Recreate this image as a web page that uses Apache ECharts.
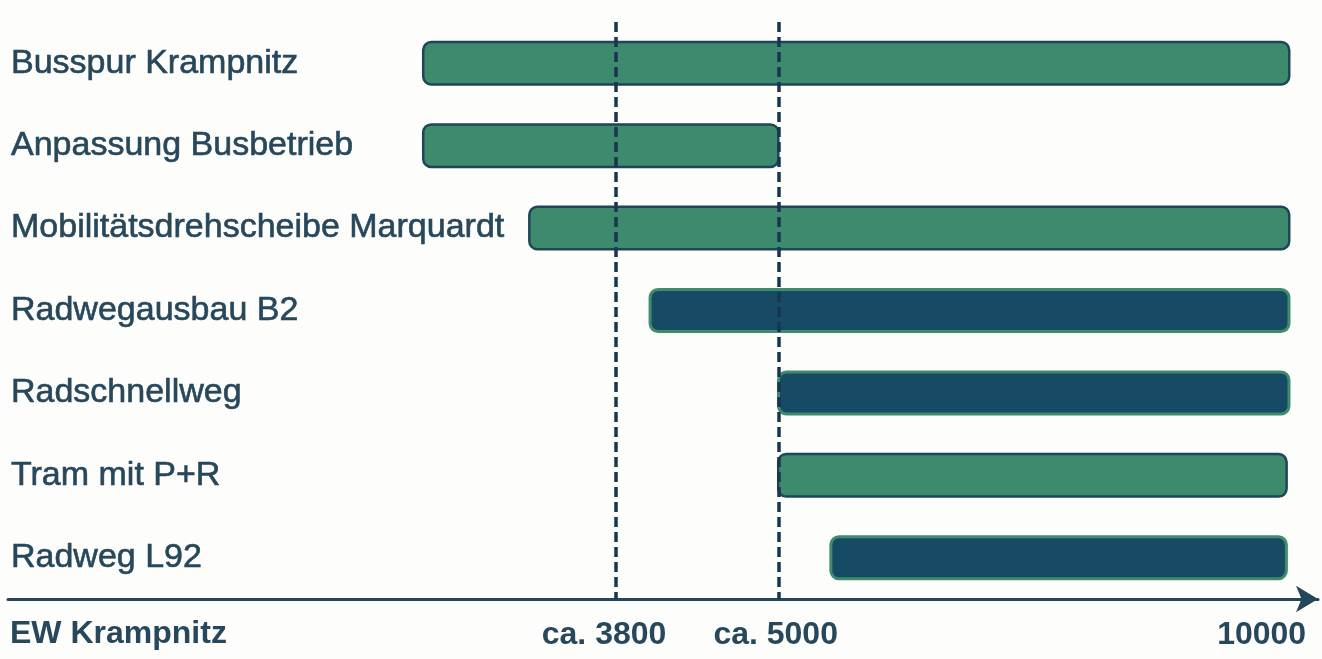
<!DOCTYPE html>
<html>
<head>
<meta charset="utf-8">
<script src="https://cdn.jsdelivr.net/npm/echarts@6/dist/echarts.min.js"></script>
<style>
  html, body { margin: 0; padding: 0; background: #fdfdfb; }
  #chart { width: 1322px; height: 659px; }
</style>
</head>
<body>
<div id="chart"></div>
<script>
// schematic axis: 0..100 along the EW Krampnitz arrow
let projects = [
  "Busspur Krampnitz",
  "Anpassung Busbetrieb",
  "Mobilitätsdrehscheibe Marquardt",
  "Radwegausbau B2",
  "Radschnellweg",
  "Tram mit P+R",
  "Radweg L92"
];
let barStart = [31.6, 31.6, 39.7, 48.9, 58.7, 58.7, 62.7];
let barEnd = [97.9, 58.9, 97.9, 97.9, 97.9, 97.7, 97.7];
// 0 = green bar, 1 = dark blue bar
let barKind = [0, 0, 0, 1, 1, 0, 1];
let tickPos = [45.5, 58.6, 95.7];
let tickLabels = ["ca. 3800", "ca. 5000", "10000"];
let thresholdPos = [46.4, 58.8];

let textColor = "#27475b";
let kinds = [
  { color: "#3e8a6c", borderColor: "#1f4658", borderWidth: 2.5, borderRadius: 8 },
  { color: "#174b65", borderColor: "#3f8c6d", borderWidth: 3, borderRadius: 8 }
];

let chart = echarts.init(document.getElementById("chart"));

let spans = [];
for (let i = 0; i < projects.length; i++) {
  spans.push({ value: barEnd[i] - barStart[i], itemStyle: kinds[barKind[i]] });
}

let option = {
  backgroundColor: "#fdfdfb",
  animation: false,
  grid: { left: 8, right: 4, top: 22, bottom: 60 },
  xAxis: {
    type: "value",
    min: 0,
    max: 100,
    splitLine: { show: false },
    axisLine: {
      show: true,
      symbol: ["none", "arrow"],
      symbolSize: [20, 22],
      lineStyle: { color: "#24465a", width: 3 }
    },
    axisTick: { show: false },
    axisLabel: {
      customValues: tickPos,
      formatter: function (v) {
        let idx = tickPos.indexOf(v);
        return idx >= 0 ? tickLabels[idx] : "";
      },
      margin: 20,
      color: textColor,
      fontFamily: "Liberation Sans, Arial",
      fontWeight: "bold",
      fontSize: 32
    }
  },
  yAxis: {
    type: "category",
    inverse: true,
    data: projects,
    axisLine: { show: false },
    axisTick: { show: false },
    splitLine: { show: false },
    axisLabel: {
      inside: true,
      margin: 3,
      align: "left",
      color: textColor,
      textBorderColor: textColor,
      textBorderWidth: 0.6,
      fontFamily: "Liberation Sans, Arial",
      fontSize: 34
    }
  },
  graphic: [
    {
      type: "text",
      left: 10,
      top: 618,
      style: {
        text: "EW Krampnitz",
        fill: textColor,
        font: "bold 32px 'Liberation Sans', Arial"
      }
    }
  ],
  series: [
    {
      name: "start",
      type: "bar",
      stack: "range",
      barWidth: 45,
      silent: true,
      itemStyle: { color: "transparent" },
      data: barStart
    },
    {
      name: "span",
      type: "bar",
      stack: "range",
      barWidth: 45,
      data: spans,
      markLine: {
        silent: true,
        symbol: ["none", "none"],
        label: { show: false },
        lineStyle: { color: "#1a3550", type: [10, 5], width: 3.5 },
        data: thresholdPos.map(function (v) { return { xAxis: v }; }),
        z: 10
      }
    }
  ]
};

chart.setOption(option);
</script>
</body>
</html>
